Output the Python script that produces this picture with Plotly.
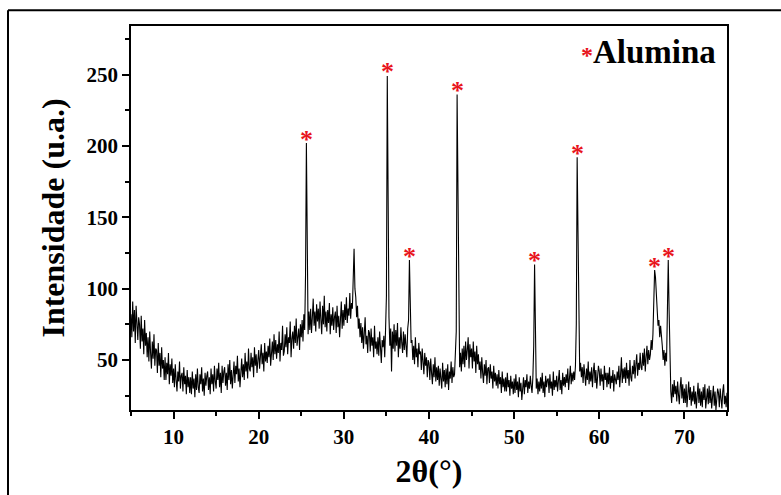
import numpy as np
import plotly.graph_objects as go

# 2-theta grid (degrees), 0.1 step from 5 to 75
two_theta = np.round(np.arange(5.0, 75.05, 0.1), 1)

# intensities, one row per degree (x.0 ... x.9)
intensity_rows = [
    [82, 66, 91, 70, 85, 62, 88, 73, 64, 80],   # 5
    [75, 58, 81, 63, 72, 54, 78, 60, 69, 52],   # 6
    [66, 49, 70, 55, 44, 63, 51, 68, 46, 58],   # 7
    [57, 41, 62, 46, 55, 38, 59, 44, 50, 36],   # 8
    [52, 36, 48, 40, 55, 33, 47, 39, 51, 34],   # 9
    [44, 31, 47, 36, 28, 42, 35, 49, 30, 39],   # 10
    [41, 28, 45, 33, 39, 26, 43, 31, 38, 27],   # 11
    [38, 26, 42, 30, 37, 24, 40, 29, 44, 31],   # 12
    [27, 40, 33, 45, 28, 37, 25, 41, 32, 39],   # 13
    [42, 29, 38, 26, 44, 33, 40, 28, 46, 35],   # 14
    [30, 44, 36, 48, 31, 41, 27, 46, 34, 42],   # 15
    [45, 32, 41, 29, 47, 36, 50, 33, 43, 30],   # 16
    [37, 49, 34, 46, 40, 53, 35, 44, 31, 48],   # 17
    [51, 38, 47, 36, 55, 42, 49, 37, 58, 44],   # 18
    [42, 55, 45, 52, 38, 59, 46, 54, 41, 50],   # 19
    [57, 44, 53, 61, 47, 55, 42, 62, 49, 56],   # 20
    [48, 60, 52, 65, 46, 58, 63, 50, 68, 54],   # 21
    [64, 51, 61, 55, 70, 49, 62, 57, 74, 53],   # 22
    [56, 68, 59, 73, 54, 66, 62, 77, 52, 65],   # 23
    [70, 58, 74, 62, 79, 60, 68, 72, 57, 75],   # 24
    [66, 78, 63, 82, 71, 110, 202, 92, 68, 84], # 25
    [71, 86, 69, 80, 93, 74, 84, 70, 89, 77],   # 26
    [86, 72, 91, 78, 68, 88, 75, 95, 73, 84],   # 27
    [70, 85, 76, 90, 68, 82, 74, 87, 71, 80],   # 28
    [84, 69, 88, 73, 81, 66, 79, 91, 72, 85],   # 29
    [74, 89, 78, 94, 76, 86, 81, 97, 79, 90],   # 30
    [86, 105, 128, 100, 94, 80, 88, 72, 79, 66],# 31
    [76, 62, 73, 58, 70, 80, 61, 67, 55, 71],   # 32
    [69, 56, 72, 60, 66, 52, 74, 58, 63, 54],   # 33
    [66, 53, 70, 57, 48, 64, 59, 67, 52, 72],   # 34
    [95, 249, 150, 80, 60, 72, 42, 70, 58, 75], # 35
    [56, 71, 60, 76, 52, 66, 58, 73, 62, 55],   # 36
    [70, 57, 68, 60, 52, 72, 78, 120, 80, 62],  # 37
    [64, 50, 60, 47, 66, 52, 58, 45, 62, 54],   # 38
    [56, 43, 58, 48, 40, 55, 46, 52, 38, 50],   # 39
    [48, 36, 51, 41, 33, 47, 38, 52, 35, 45],   # 40
    [36, 46, 32, 44, 38, 30, 48, 35, 43, 31],   # 41
    [44, 33, 47, 29, 42, 37, 49, 34, 45, 38],   # 42
    [40, 52, 70, 236, 150, 60, 45, 55, 42, 58], # 43
    [47, 60, 45, 63, 50, 57, 66, 44, 61, 52],   # 44
    [58, 44, 63, 49, 56, 41, 60, 47, 54, 43],   # 45
    [49, 37, 52, 41, 34, 47, 39, 50, 33, 44],   # 46
    [45, 34, 47, 37, 42, 30, 46, 35, 41, 32],   # 47
    [40, 30, 43, 33, 38, 27, 42, 31, 37, 28],   # 48
    [38, 28, 41, 31, 36, 25, 39, 30, 35, 26],   # 49
    [37, 27, 40, 29, 35, 24, 38, 28, 34, 22],   # 50
    [29, 38, 26, 36, 31, 40, 27, 35, 30, 39],   # 51
    [32, 27, 38, 60, 117, 75, 30, 37, 26, 35],  # 52
    [28, 38, 30, 41, 27, 35, 24, 39, 31, 36],   # 53
    [37, 27, 40, 30, 35, 25, 42, 29, 36, 31],   # 54
    [39, 28, 37, 43, 29, 36, 26, 41, 32, 38],   # 55
    [31, 40, 34, 44, 29, 38, 46, 33, 41, 35],   # 56
    [42, 36, 46, 75, 192, 140, 58, 42, 48, 38], # 57
    [45, 34, 47, 38, 32, 44, 36, 49, 33, 42],   # 58
    [35, 45, 31, 42, 48, 34, 43, 30, 40, 46],   # 59
    [42, 32, 44, 35, 40, 29, 46, 36, 41, 31],   # 60
    [41, 33, 45, 30, 39, 34, 43, 28, 40, 35],   # 61
    [33, 42, 36, 46, 31, 40, 52, 34, 44, 37],   # 62
    [45, 34, 48, 37, 43, 32, 50, 38, 35, 46],   # 63
    [40, 50, 37, 47, 54, 39, 48, 43, 55, 45],   # 64
    [43, 55, 46, 58, 42, 52, 60, 47, 57, 50],   # 65
    [54, 64, 57, 68, 90, 113, 108, 95, 84, 74], # 66
    [78, 66, 74, 62, 60, 50, 57, 46, 55, 49],   # 67
    [75, 120, 85, 40, 28, 20, 33, 24, 36, 26],  # 68
    [32, 21, 35, 26, 19, 31, 38, 23, 33, 20],   # 69
    [30, 20, 33, 17, 27, 35, 22, 31, 18, 28],   # 70
    [21, 32, 19, 28, 16, 26, 34, 20, 30, 18],   # 71
    [28, 17, 31, 22, 33, 16, 26, 30, 19, 32],   # 72
    [20, 29, 16, 25, 32, 18, 28, 15, 24, 30],   # 73
    [27, 17, 30, 21, 16, 28, 33, 19, 25, 17],   # 74
    [27],                                       # 75.0
]
intensity = [v for row in intensity_rows for v in row]

# alumina peaks marked with a red star
peak_theta = [25.6, 35.1, 37.7, 43.3, 52.4, 57.4, 66.5, 68.1]
peak_height = [202, 249, 120, 236, 117, 192, 113, 120]

legend_label = "Alumina"
x_title = "2θ(°)"
y_title = "Intensidade (u.a.)"

FONT = "Liberation Serif, Times New Roman, serif"

fig = go.Figure()
fig.add_trace(go.Scatter(x=two_theta, y=intensity, mode="lines",
                         line=dict(color="black", width=1.1), showlegend=False,
                         hoverinfo="skip"))

for px, ph in zip(peak_theta, peak_height):
    fig.add_annotation(x=px, y=ph, text="*", showarrow=False, xref="x", yref="y",
                       yanchor="middle", yshift=4,
                       font=dict(family=FONT, size=26, color="#e8141c", weight="bold"))

fig.add_annotation(xref="paper", yref="paper", x=0.985, y=0.933,
                   xanchor="right", yanchor="middle", showarrow=False,
                   text='<span style="color:#e8141c;font-size:24px">*</span>' + legend_label,
                   font=dict(family=FONT, size=33, color="black", weight="bold"))

# plot area in pixels: left 131, right 727, top 26, bottom 415
L, R, T, B = 131, 727, 26, 415
W, H = R - L, B - T
def px_x(p):
    return (p - L) / W
def px_y(p):
    return (B - p) / H

frame = dict(color="black", width=2)
fig.add_shape(type="line", xref="paper", yref="paper",
              x0=px_x(8), x1=px_x(800), y0=px_y(10), y1=px_y(10), line=frame)
fig.add_shape(type="line", xref="paper", yref="paper",
              x0=px_x(8), x1=px_x(8), y0=px_y(10), y1=px_y(510), line=frame)

tickfont = dict(family=FONT, size=21, color="black", weight="bold")
fig.update_xaxes(range=[5, 75], tickmode="linear", tick0=10, dtick=10,
                 ticks="outside", ticklen=7, tickwidth=1.5, tickcolor="black",
                 minor=dict(dtick=5, tick0=5, ticks="outside", ticklen=4, tickwidth=1.5, tickcolor="black"),
                 showline=True, linecolor="black", linewidth=1.5, mirror=True,
                 showgrid=False, zeroline=False, tickfont=tickfont,
                 title=dict(text=x_title, standoff=12,
                            font=dict(family=FONT, size=32, color="black", weight="bold")))
fig.update_yaxes(range=[15, 284], tickmode="linear", tick0=50, dtick=50,
                 ticks="outside", ticklen=7, tickwidth=1.5, tickcolor="black",
                 minor=dict(dtick=25, tick0=25, ticks="outside", ticklen=4, tickwidth=1.5, tickcolor="black"),
                 showline=True, linecolor="black", linewidth=1.5, mirror=True,
                 showgrid=False, zeroline=False, tickfont=tickfont,
                 title=dict(text=y_title, standoff=12,
                            font=dict(family=FONT, size=32, color="black", weight="bold")))

fig.update_layout(width=781, height=495, autosize=False,
                  margin=dict(l=L, r=781 - R, t=T, b=495 - B),
                  paper_bgcolor="white", plot_bgcolor="white")

fig.write_html("out.html")
